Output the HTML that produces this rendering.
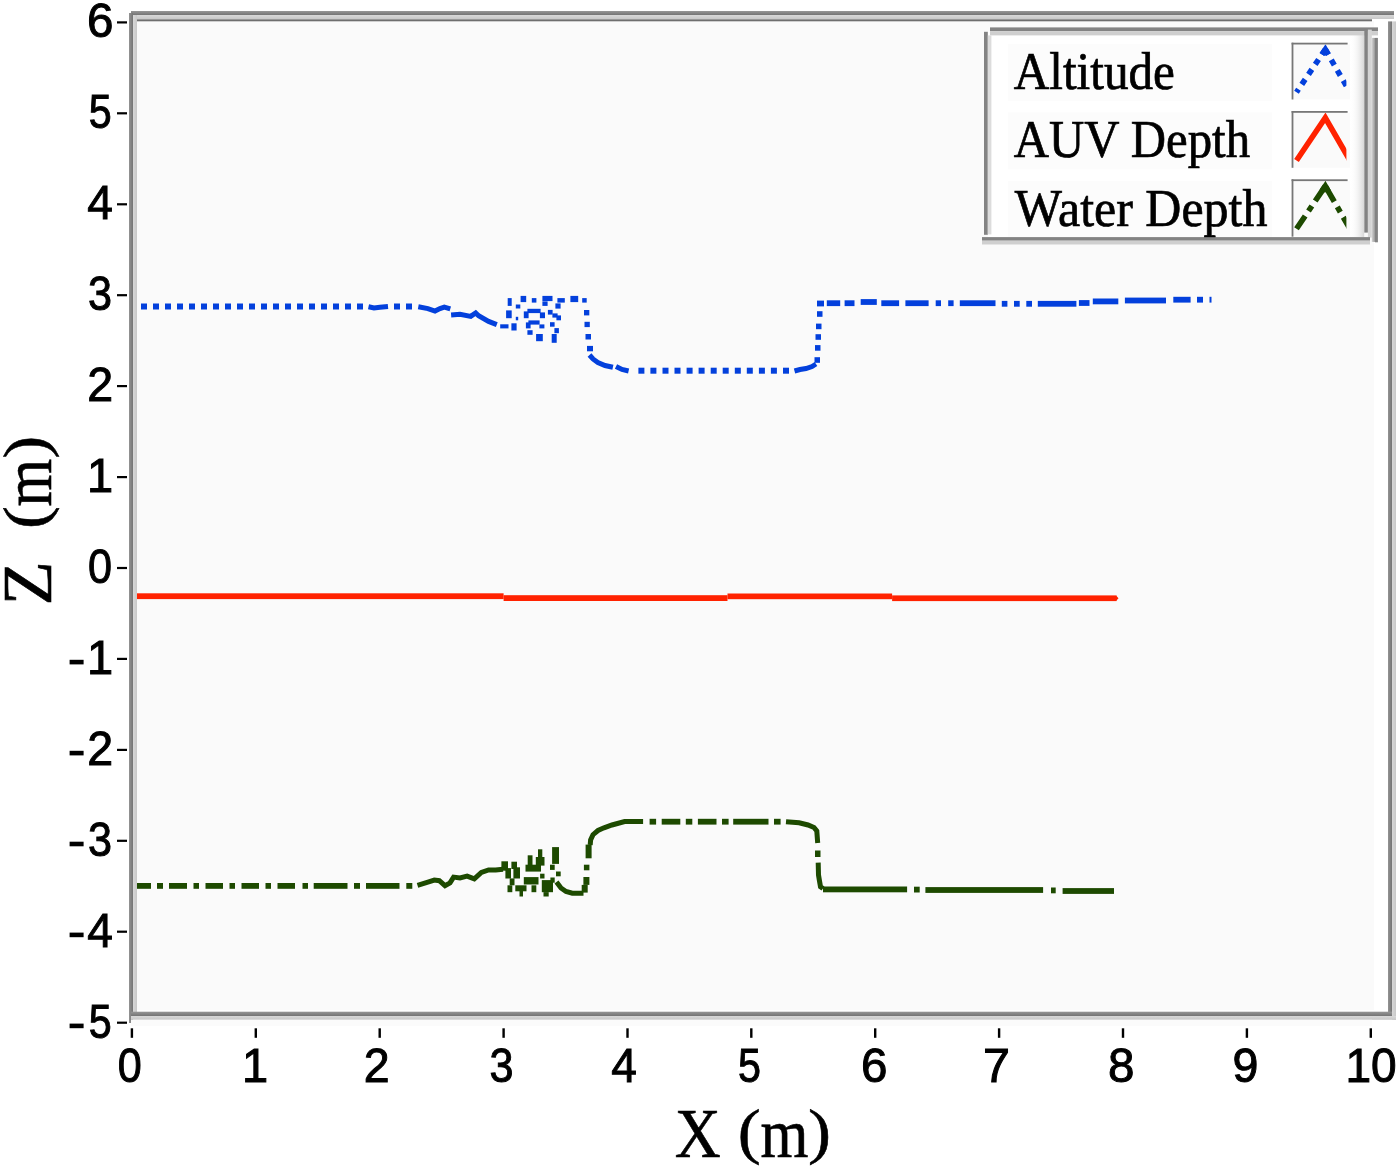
<!DOCTYPE html>
<html><head><meta charset="utf-8"><style>
html,body{margin:0;padding:0;background:#fff;}
svg{display:block;will-change:transform;}
.num{font-family:"Liberation Sans",sans-serif;font-size:48.5px;fill:#000;stroke:#000;stroke-width:1px;}
.ttl{font-family:"Liberation Serif",serif;font-size:69px;fill:#000;stroke:#000;stroke-width:0.6px;}
.leg{font-family:"Liberation Serif",serif;font-size:52px;fill:#000;stroke:#000;stroke-width:0.7px;}
</style></head><body>
<svg width="1400" height="1169" viewBox="0 0 1400 1169">
<defs>
<linearGradient id="shR" x1="0" x2="1" y1="0" y2="0"><stop offset="0" stop-color="#ffffff" stop-opacity="0"/><stop offset="1" stop-color="#d6d6d6"/></linearGradient>
<linearGradient id="shR2" x1="0" x2="1" y1="0" y2="0"><stop offset="0" stop-color="#d4d4d4"/><stop offset="1" stop-color="#999"/></linearGradient>
<linearGradient id="dH" x1="0" x2="1" y1="0" y2="0"><stop offset="0" stop-color="#949494"/><stop offset="1" stop-color="#747474"/></linearGradient>
<linearGradient id="dV" x1="0" x2="0" y1="0" y2="1"><stop offset="0" stop-color="#969696"/><stop offset="1" stop-color="#747474"/></linearGradient>
<linearGradient id="lH" x1="0" x2="1" y1="0" y2="0"><stop offset="0" stop-color="#d8d8d8"/><stop offset="1" stop-color="#c8c8c8"/></linearGradient>
<linearGradient id="lV" x1="0" x2="0" y1="0" y2="1"><stop offset="0" stop-color="#d8d8d8"/><stop offset="1" stop-color="#c8c8c8"/></linearGradient>
<clipPath id="plot"><rect x="137" y="21" width="1251" height="991"/></clipPath>
</defs>
<rect width="1400" height="1169" fill="#fff"/>
<rect x="137" y="21" width="1237" height="989" fill="#fafafa"/>
<rect x="1374" y="21" width="14" height="991" fill="#ffffff"/>
<rect x="131" y="11" width="1263" height="4" fill="url(#dV)"/>
<rect x="133" y="15" width="1261" height="4" fill="url(#lV)"/>
<rect x="137" y="19.3" width="1235" height="2" fill="#6e6e6e"/>
<rect x="129" y="13" width="4" height="1010" fill="url(#dH)"/>
<rect x="133" y="15" width="4" height="997" fill="url(#lH)"/>
<rect x="1388" y="21.4" width="4" height="994.6" fill="url(#dH)"/>
<rect x="1392" y="21.4" width="4" height="998.6" fill="url(#lH)"/>
<rect x="131" y="1011.7" width="1261" height="4.3" fill="url(#dV)"/>
<rect x="131" y="1016" width="1265" height="3.8" fill="url(#lV)"/>
<rect x="131" y="1019.8" width="1241" height="6" fill="#fbfbfb"/>
<rect x="117" y="21.3" width="10" height="2.2" fill="#000"/>
<text class="num" text-anchor="middle" transform="translate(100.1,37.4) scale(0.98,1)">6</text>
<rect x="117" y="112.2" width="10" height="2.2" fill="#000"/>
<text class="num" text-anchor="middle" transform="translate(100.1,128.3) scale(0.85,1)">5</text>
<rect x="117" y="203.2" width="10" height="2.2" fill="#000"/>
<text class="num" text-anchor="middle" transform="translate(100.1,219.3) scale(0.95,1)">4</text>
<rect x="117" y="294.1" width="10" height="2.2" fill="#000"/>
<text class="num" text-anchor="middle" transform="translate(100.1,310.2) scale(0.89,1)">3</text>
<rect x="117" y="385.0" width="10" height="2.2" fill="#000"/>
<text class="num" text-anchor="middle" transform="translate(100.1,401.1) scale(0.96,1)">2</text>
<rect x="117" y="476.0" width="10" height="2.2" fill="#000"/>
<text class="num" text-anchor="middle" transform="translate(100.1,492.1) scale(0.97,1)">1</text>
<rect x="117" y="566.9" width="10" height="2.2" fill="#000"/>
<text class="num" text-anchor="middle" transform="translate(100.1,583.0) scale(0.89,1)">0</text>
<rect x="117" y="657.8" width="10" height="2.2" fill="#000"/>
<text class="num" text-anchor="middle" transform="translate(100.1,673.9) scale(0.97,1)">1</text>
<rect x="69.6" y="659.8" width="14" height="4.6" fill="#000"/>
<rect x="117" y="748.8" width="10" height="2.2" fill="#000"/>
<text class="num" text-anchor="middle" transform="translate(100.1,764.9) scale(0.96,1)">2</text>
<rect x="69.6" y="750.8" width="14" height="4.6" fill="#000"/>
<rect x="117" y="839.7" width="10" height="2.2" fill="#000"/>
<text class="num" text-anchor="middle" transform="translate(100.1,855.8) scale(0.89,1)">3</text>
<rect x="69.6" y="841.7" width="14" height="4.6" fill="#000"/>
<rect x="117" y="930.6" width="10" height="2.2" fill="#000"/>
<text class="num" text-anchor="middle" transform="translate(100.1,946.7) scale(0.95,1)">4</text>
<rect x="69.6" y="932.6" width="14" height="4.6" fill="#000"/>
<rect x="117" y="1021.6" width="10" height="2.2" fill="#000"/>
<text class="num" text-anchor="middle" transform="translate(100.1,1037.7) scale(0.85,1)">5</text>
<rect x="69.6" y="1023.6" width="14" height="4.6" fill="#000"/>
<rect x="130.7" y="1028.3" width="2.4" height="9.5" fill="#000"/>
<text class="num" text-anchor="middle" transform="translate(129.7,1082.3) scale(0.89,1)">0</text>
<rect x="254.6" y="1028.3" width="2.4" height="9.5" fill="#000"/>
<text class="num" text-anchor="middle" transform="translate(255.0,1082.3) scale(0.97,1)">1</text>
<rect x="378.5" y="1028.3" width="2.4" height="9.5" fill="#000"/>
<text class="num" text-anchor="middle" transform="translate(376.8,1082.3) scale(0.96,1)">2</text>
<rect x="502.4" y="1028.3" width="2.4" height="9.5" fill="#000"/>
<text class="num" text-anchor="middle" transform="translate(501.4,1082.3) scale(0.89,1)">3</text>
<rect x="626.3" y="1028.3" width="2.4" height="9.5" fill="#000"/>
<text class="num" text-anchor="middle" transform="translate(624.1,1082.3) scale(0.95,1)">4</text>
<rect x="750.1" y="1028.3" width="2.4" height="9.5" fill="#000"/>
<text class="num" text-anchor="middle" transform="translate(749.5,1082.3) scale(0.85,1)">5</text>
<rect x="874.0" y="1028.3" width="2.4" height="9.5" fill="#000"/>
<text class="num" text-anchor="middle" transform="translate(874.3,1082.3) scale(0.98,1)">6</text>
<rect x="997.9" y="1028.3" width="2.4" height="9.5" fill="#000"/>
<text class="num" text-anchor="middle" transform="translate(996.4,1082.3) scale(1.0,1)">7</text>
<rect x="1121.8" y="1028.3" width="2.4" height="9.5" fill="#000"/>
<text class="num" text-anchor="middle" transform="translate(1121.3,1082.3) scale(0.98,1)">8</text>
<rect x="1245.7" y="1028.3" width="2.4" height="9.5" fill="#000"/>
<text class="num" text-anchor="middle" transform="translate(1245.4,1082.3) scale(0.96,1)">9</text>
<rect x="1369.6" y="1028.3" width="2.4" height="9.5" fill="#000"/>
<text class="num" text-anchor="middle" transform="translate(1371.0,1082.3) scale(0.95,1)">10</text>
<text x="0" y="0" class="ttl" transform="translate(674.8,1157) scale(0.923,1)">X</text>
<text x="0" y="0" class="ttl" transform="translate(737.7,1151.9) scale(1,0.873)">(</text>
<text x="0" y="0" class="ttl" transform="translate(760.5,1157) scale(0.894,1)">m</text>
<text x="0" y="0" class="ttl" transform="translate(807.9,1151.9) scale(1,0.873)">)</text>
<text x="0" y="0" class="ttl" transform="translate(51.3,605.5) rotate(-90) scale(1.051,1)">Z</text>
<text x="0" y="0" class="ttl" transform="translate(46.2,529.1) rotate(-90) scale(1,0.873)">(</text>
<text x="0" y="0" class="ttl" transform="translate(51.3,506.5) rotate(-90) scale(0.888,1)">m</text>
<text x="0" y="0" class="ttl" transform="translate(46.2,458.8) rotate(-90) scale(1,0.873)">)</text>
<g clip-path="url(#plot)"><rect x="137.0" y="593.3" width="366.6" height="5.8" fill="#ff2200"/>
<rect x="503.6" y="595.2" width="223.9" height="5.8" fill="#ff2200"/>
<rect x="727.5" y="593.5" width="164.6" height="5.7" fill="#ff2200"/>
<rect x="892.1" y="595.4" width="224.4" height="5.7" fill="#ff2200"/>
<polygon points="1116,595.4 1118.5,598.2 1116,601.1" fill="#ff2200"/>
<rect x="141.0" y="303.5" width="6.0" height="6.0" fill="#0340dc"/>
<rect x="153.0" y="303.5" width="6.0" height="6.0" fill="#0340dc"/>
<rect x="165.0" y="303.5" width="6.0" height="6.0" fill="#0340dc"/>
<rect x="177.0" y="303.5" width="6.0" height="6.0" fill="#0340dc"/>
<rect x="189.0" y="303.5" width="6.0" height="6.0" fill="#0340dc"/>
<rect x="201.0" y="303.5" width="6.0" height="6.0" fill="#0340dc"/>
<rect x="213.0" y="303.5" width="6.0" height="6.0" fill="#0340dc"/>
<rect x="225.0" y="303.5" width="6.0" height="6.0" fill="#0340dc"/>
<rect x="237.0" y="303.5" width="6.0" height="6.0" fill="#0340dc"/>
<rect x="249.0" y="303.5" width="6.0" height="6.0" fill="#0340dc"/>
<rect x="261.0" y="303.5" width="6.0" height="6.0" fill="#0340dc"/>
<rect x="273.0" y="303.5" width="6.0" height="6.0" fill="#0340dc"/>
<rect x="285.0" y="303.5" width="6.0" height="6.0" fill="#0340dc"/>
<rect x="297.0" y="303.5" width="6.0" height="6.0" fill="#0340dc"/>
<rect x="309.0" y="303.5" width="6.0" height="6.0" fill="#0340dc"/>
<rect x="321.0" y="303.5" width="6.0" height="6.0" fill="#0340dc"/>
<rect x="333.0" y="303.5" width="6.0" height="6.0" fill="#0340dc"/>
<rect x="345.0" y="303.5" width="6.0" height="6.0" fill="#0340dc"/>
<rect x="357.0" y="303.5" width="6.0" height="6.0" fill="#0340dc"/>
<polyline points="368.5,306.8 374.0,308.0 380.0,307.3 388.0,306.5" fill="none" stroke="#0340dc" stroke-width="5.0" stroke-linejoin="miter" stroke-linecap="butt" />
<rect x="394.0" y="303.5" width="6.0" height="6.0" fill="#0340dc"/>
<rect x="406.0" y="303.5" width="6.0" height="6.0" fill="#0340dc"/>
<polyline points="418.3,306.8 427.9,308.6 435.0,311.1 440.0,308.6 444.3,307.1 450.3,308.9" fill="none" stroke="#0340dc" stroke-width="5.0" stroke-linejoin="miter" stroke-linecap="butt" />
<polyline points="451.1,315.0 460.0,314.3 470.7,316.4 475.7,312.9 478.6,315.7 488.6,321.4 496.8,324.6" fill="none" stroke="#0340dc" stroke-width="5.0" stroke-linejoin="miter" stroke-linecap="butt" />
<rect x="500.2" y="324.3" width="8.3" height="4.1" fill="#0340dc"/>
<rect x="507.7" y="298.1" width="4.0" height="7.8" fill="#0340dc"/>
<rect x="515.8" y="304.5" width="4.5" height="4.0" fill="#0340dc"/>
<rect x="520.6" y="295.9" width="5.6" height="6.2" fill="#0340dc"/>
<rect x="531.8" y="298.1" width="4.6" height="4.5" fill="#0340dc"/>
<rect x="542.4" y="295.9" width="10.1" height="5.2" fill="#0340dc"/>
<rect x="542.4" y="301.4" width="5.2" height="4.5" fill="#0340dc"/>
<rect x="557.4" y="298.1" width="7.4" height="4.5" fill="#0340dc"/>
<rect x="555.4" y="303.4" width="5.2" height="5.2" fill="#0340dc"/>
<rect x="570.4" y="295.9" width="7.8" height="6.2" fill="#0340dc"/>
<rect x="582.2" y="298.1" width="4.5" height="4.5" fill="#0340dc"/>
<rect x="506.1" y="310.4" width="5.6" height="7.8" fill="#0340dc"/>
<rect x="511.4" y="323.3" width="5.2" height="7.2" fill="#0340dc"/>
<rect x="515.8" y="316.8" width="2.4" height="3.5" fill="#0340dc"/>
<rect x="523.8" y="311.4" width="4.8" height="6.8" fill="#0340dc"/>
<rect x="527.4" y="308.8" width="13.2" height="4.3" fill="#0340dc"/>
<rect x="539.9" y="312.4" width="5.1" height="5.8" fill="#0340dc"/>
<rect x="525.9" y="322.4" width="4.7" height="6.0" fill="#0340dc"/>
<rect x="528.4" y="320.4" width="11.2" height="4.2" fill="#0340dc"/>
<rect x="539.4" y="324.4" width="5.0" height="4.0" fill="#0340dc"/>
<rect x="527.4" y="330.2" width="5.2" height="4.6" fill="#0340dc"/>
<rect x="536.1" y="334.0" width="6.7" height="7.2" fill="#0340dc"/>
<rect x="547.9" y="309.9" width="4.7" height="4.7" fill="#0340dc"/>
<rect x="552.4" y="313.4" width="5.2" height="4.2" fill="#0340dc"/>
<rect x="556.4" y="315.4" width="4.6" height="4.9" fill="#0340dc"/>
<rect x="550.0" y="322.2" width="4.6" height="4.5" fill="#0340dc"/>
<rect x="554.4" y="328.1" width="4.5" height="5.1" fill="#0340dc"/>
<rect x="551.7" y="334.0" width="5.0" height="8.8" fill="#0340dc"/>
<rect x="584.0" y="310.0" width="5.3" height="5.4" fill="#0340dc"/>
<rect x="584.5" y="321.8" width="5.3" height="5.3" fill="#0340dc"/>
<rect x="585.5" y="334.0" width="5.5" height="5.5" fill="#0340dc"/>
<rect x="587.0" y="345.9" width="6.0" height="5.4" fill="#0340dc"/>
<polyline points="589.5,355.0 593.0,359.0 597.9,362.5 605.0,365.5 612.9,367.3" fill="none" stroke="#0340dc" stroke-width="5.0" stroke-linejoin="miter" stroke-linecap="butt" />
<polyline points="616.0,366.5 622.0,369.5 628.6,371.0" fill="none" stroke="#0340dc" stroke-width="5.0" stroke-linejoin="miter" stroke-linecap="butt" />
<rect x="638.4" y="367.7" width="6.0" height="6.0" fill="#0340dc"/>
<rect x="650.4" y="367.7" width="6.0" height="6.0" fill="#0340dc"/>
<rect x="662.5" y="367.7" width="6.0" height="6.0" fill="#0340dc"/>
<rect x="674.5" y="367.7" width="6.0" height="6.0" fill="#0340dc"/>
<rect x="686.6" y="367.7" width="6.0" height="6.0" fill="#0340dc"/>
<rect x="698.6" y="367.7" width="6.0" height="6.0" fill="#0340dc"/>
<rect x="710.7" y="367.7" width="6.0" height="6.0" fill="#0340dc"/>
<rect x="722.7" y="367.7" width="6.0" height="6.0" fill="#0340dc"/>
<rect x="734.8" y="367.7" width="6.0" height="6.0" fill="#0340dc"/>
<rect x="746.8" y="367.7" width="6.0" height="6.0" fill="#0340dc"/>
<rect x="758.9" y="367.7" width="6.0" height="6.0" fill="#0340dc"/>
<rect x="770.9" y="367.7" width="6.0" height="6.0" fill="#0340dc"/>
<rect x="783.0" y="367.7" width="6.0" height="6.0" fill="#0340dc"/>
<polyline points="794.5,371.0 800.0,369.5 806.0,368.5 812.0,366.5 816.0,364.0" fill="none" stroke="#0340dc" stroke-width="5.0" stroke-linejoin="miter" stroke-linecap="butt" />
<rect x="814.5" y="357.2" width="5.5" height="5.6" fill="#0340dc"/>
<rect x="815.0" y="345.1" width="5.5" height="5.6" fill="#0340dc"/>
<rect x="815.5" y="334.2" width="5.5" height="5.6" fill="#0340dc"/>
<rect x="816.0" y="323.6" width="5.5" height="5.6" fill="#0340dc"/>
<rect x="817.0" y="311.2" width="5.5" height="5.6" fill="#0340dc"/>
<rect x="817.0" y="300.6" width="7.0" height="5.8" fill="#0340dc"/>
<rect x="826.8" y="300.3" width="13.4" height="5.8" fill="#0340dc"/>
<rect x="844.6" y="300.3" width="9.9" height="5.8" fill="#0340dc"/>
<rect x="860.7" y="299.1" width="16.1" height="5.8" fill="#0340dc"/>
<rect x="881.3" y="300.3" width="17.8" height="5.8" fill="#0340dc"/>
<rect x="905.4" y="300.3" width="23.2" height="5.8" fill="#0340dc"/>
<rect x="935.7" y="300.3" width="5.3" height="5.8" fill="#0340dc"/>
<rect x="948.2" y="300.3" width="5.4" height="5.8" fill="#0340dc"/>
<rect x="959.8" y="300.3" width="35.7" height="5.8" fill="#0340dc"/>
<rect x="1001.8" y="300.9" width="5.6" height="5.8" fill="#0340dc"/>
<rect x="1014.0" y="300.9" width="5.7" height="5.8" fill="#0340dc"/>
<rect x="1026.3" y="300.9" width="5.7" height="5.8" fill="#0340dc"/>
<rect x="1037.8" y="300.9" width="38.6" height="5.8" fill="#0340dc"/>
<rect x="1078.9" y="300.1" width="10.6" height="5.8" fill="#0340dc"/>
<rect x="1092.8" y="298.5" width="25.5" height="5.8" fill="#0340dc"/>
<rect x="1124.9" y="297.6" width="41.1" height="5.8" fill="#0340dc"/>
<rect x="1173.3" y="296.8" width="17.3" height="5.8" fill="#0340dc"/>
<rect x="1197.0" y="296.8" width="6.0" height="5.8" fill="#0340dc"/>
<rect x="1209.5" y="296.8" width="2.0" height="5.8" fill="#0340dc"/>
<rect x="137.0" y="883.0" width="14.0" height="5.8" fill="#1d4a00"/>
<rect x="157.0" y="883.0" width="6.0" height="5.8" fill="#1d4a00"/>
<rect x="169.0" y="883.0" width="18.0" height="5.8" fill="#1d4a00"/>
<rect x="193.5" y="883.0" width="5.5" height="5.8" fill="#1d4a00"/>
<rect x="205.5" y="883.0" width="17.5" height="5.8" fill="#1d4a00"/>
<rect x="229.5" y="883.0" width="5.5" height="5.8" fill="#1d4a00"/>
<rect x="241.5" y="883.0" width="17.5" height="5.8" fill="#1d4a00"/>
<rect x="265.5" y="883.0" width="5.5" height="5.8" fill="#1d4a00"/>
<rect x="277.5" y="883.0" width="17.5" height="5.8" fill="#1d4a00"/>
<rect x="302.5" y="883.0" width="5.5" height="5.8" fill="#1d4a00"/>
<rect x="313.7" y="883.0" width="33.8" height="5.8" fill="#1d4a00"/>
<rect x="354.0" y="883.0" width="6.0" height="5.8" fill="#1d4a00"/>
<rect x="366.0" y="883.0" width="33.5" height="5.8" fill="#1d4a00"/>
<rect x="406.3" y="883.0" width="6.0" height="5.8" fill="#1d4a00"/>
<polyline points="417.5,885.3 427.9,882.1 434.3,880.0 439.3,880.7 445.0,885.7 450.0,882.9 453.6,877.1 460.0,877.9 467.1,876.1 474.3,878.9 481.4,872.5 488.6,870.0 495.7,870.0 503.0,869.3" fill="none" stroke="#1d4a00" stroke-width="5.0" stroke-linejoin="miter" stroke-linecap="butt" />
<rect x="501.4" y="861.3" width="6.6" height="9.4" fill="#1d4a00"/>
<rect x="505.4" y="868.1" width="5.6" height="10.4" fill="#1d4a00"/>
<rect x="511.4" y="861.7" width="5.6" height="7.3" fill="#1d4a00"/>
<rect x="513.4" y="867.3" width="6.6" height="11.2" fill="#1d4a00"/>
<rect x="507.5" y="885.3" width="4.8" height="6.9" fill="#1d4a00"/>
<rect x="509.7" y="878.4" width="4.8" height="6.9" fill="#1d4a00"/>
<rect x="515.3" y="885.3" width="11.2" height="6.0" fill="#1d4a00"/>
<rect x="519.5" y="890.4" width="3.5" height="6.1" fill="#1d4a00"/>
<rect x="523.8" y="877.1" width="14.7" height="7.4" fill="#1d4a00"/>
<rect x="531.5" y="885.3" width="4.8" height="6.9" fill="#1d4a00"/>
<rect x="525.5" y="864.7" width="15.5" height="6.9" fill="#1d4a00"/>
<rect x="527.7" y="855.3" width="4.8" height="10.3" fill="#1d4a00"/>
<rect x="538.0" y="849.3" width="4.3" height="14.6" fill="#1d4a00"/>
<rect x="535.8" y="857.0" width="8.7" height="8.6" fill="#1d4a00"/>
<rect x="540.1" y="873.7" width="4.4" height="4.8" fill="#1d4a00"/>
<rect x="541.8" y="880.1" width="11.2" height="12.1" fill="#1d4a00"/>
<rect x="543.5" y="892.1" width="5.2" height="4.4" fill="#1d4a00"/>
<rect x="550.0" y="864.7" width="4.7" height="5.2" fill="#1d4a00"/>
<rect x="552.1" y="847.1" width="6.9" height="16.8" fill="#1d4a00"/>
<rect x="556.0" y="871.5" width="4.7" height="4.8" fill="#1d4a00"/>
<rect x="550.4" y="877.5" width="4.3" height="5.2" fill="#1d4a00"/>
<polyline points="556.5,882.0 561.0,888.0 566.0,891.5 572.3,893.2 583.5,893.2" fill="none" stroke="#1d4a00" stroke-width="5.0" stroke-linejoin="miter" stroke-linecap="butt" />
<rect x="581.7" y="884.9" width="6.0" height="7.7" fill="#1d4a00"/>
<rect x="583.4" y="877.0" width="6.0" height="7.9" fill="#1d4a00"/>
<rect x="583.9" y="864.7" width="5.5" height="5.6" fill="#1d4a00"/>
<rect x="585.6" y="844.6" width="6.0" height="13.7" fill="#1d4a00"/>
<polyline points="590.2,845.0 590.6,840.0 593.0,834.7 598.0,830.5 604.0,827.8 612.0,825.0 624.6,821.5 643.1,821.5" fill="none" stroke="#1d4a00" stroke-width="5.0" stroke-linejoin="miter" stroke-linecap="butt" />
<rect x="649.6" y="818.8" width="6.5" height="5.8" fill="#1d4a00"/>
<rect x="661.7" y="818.8" width="18.6" height="5.8" fill="#1d4a00"/>
<rect x="685.8" y="818.8" width="6.5" height="5.8" fill="#1d4a00"/>
<rect x="697.9" y="818.8" width="18.6" height="5.8" fill="#1d4a00"/>
<rect x="722.0" y="818.8" width="6.6" height="5.8" fill="#1d4a00"/>
<rect x="733.2" y="818.8" width="35.3" height="5.8" fill="#1d4a00"/>
<rect x="774.0" y="818.8" width="6.6" height="5.8" fill="#1d4a00"/>
<polyline points="786.0,821.7 799.1,822.8 808.0,825.0 814.0,827.5 816.8,831.0 817.7,843.0" fill="none" stroke="#1d4a00" stroke-width="5.0" stroke-linejoin="miter" stroke-linecap="butt" />
<rect x="815.0" y="850.5" width="5.5" height="6.5" fill="#1d4a00"/>
<polyline points="818.2,862.6 818.5,875.0 819.5,881.0 820.5,886.7 823.0,888.5" fill="none" stroke="#1d4a00" stroke-width="5.0" stroke-linejoin="miter" stroke-linecap="butt" />
<rect x="823.0" y="886.5" width="84.1" height="5.8" fill="#1d4a00"/>
<rect x="914.0" y="886.7" width="5.7" height="5.8" fill="#1d4a00"/>
<rect x="925.4" y="887.1" width="117.7" height="5.8" fill="#1d4a00"/>
<rect x="1051.0" y="887.5" width="4.7" height="5.8" fill="#1d4a00"/>
<rect x="1062.6" y="888.1" width="51.4" height="5.8" fill="#1d4a00"/></g>
<rect x="988" y="31" width="377" height="206" fill="#ffffff"/>
<rect x="1008" y="44.0" width="264" height="57" fill="#fcfcfc"/>
<rect x="1008" y="112.4" width="264" height="57" fill="#fcfcfc"/>
<rect x="1008" y="180.8" width="264" height="57" fill="#fcfcfc"/>
<rect x="1350" y="35" width="14.3" height="202" fill="url(#shR)"/>
<rect x="990" y="27.4" width="388" height="3.9" fill="#838383"/>
<rect x="990" y="31.3" width="388" height="4.1" fill="#cfcfcf"/>
<rect x="984" y="31.8" width="3.8" height="203" fill="#838383"/>
<rect x="987.8" y="35.4" width="3.6" height="199" fill="#dcdcdc"/>
<rect x="1364.3" y="29.6" width="3.6" height="203" fill="#838383"/>
<rect x="1367.9" y="29.6" width="3.9" height="208" fill="#d4d4d4"/>
<rect x="1371.8" y="37.9" width="3.2" height="204" fill="url(#shR2)"/>
<rect x="1375" y="37.9" width="2.9" height="204.4" fill="#838383"/>
<rect x="982" y="237.1" width="388" height="3.6" fill="#838383"/>
<rect x="982" y="240.7" width="388" height="3.8" fill="#cfcfcf"/>
<text x="0" y="0" class="leg" transform="translate(1013.7,88.7) scale(0.946,1)">Altitude</text>
<text x="0" y="0" class="leg" transform="translate(1013.7,157.1) scale(0.939,1)">AUV Depth</text>
<text x="0" y="0" class="leg" transform="translate(1014.8,225.5) scale(0.961,1)">Water Depth</text>
<rect x="1293" y="44.4" width="57" height="55.0" fill="#fafafa"/>
<rect x="1291.6" y="42.7" width="56" height="1.8" fill="#777"/>
<rect x="1291.6" y="42.7" width="1.8" height="56.8" fill="#777"/>
<rect x="1293" y="112.7" width="57" height="55.0" fill="#fafafa"/>
<rect x="1291.6" y="111.0" width="56" height="1.8" fill="#777"/>
<rect x="1291.6" y="111.0" width="1.8" height="56.8" fill="#777"/>
<rect x="1293" y="181.0" width="57" height="54.5" fill="#fafafa"/>
<rect x="1291.6" y="179.3" width="56" height="1.8" fill="#777"/>
<rect x="1291.6" y="179.3" width="1.8" height="57.4" fill="#777"/>
<clipPath id="sw0"><rect x="1293.4" y="44.5" width="53" height="58"/></clipPath>
<g clip-path="url(#sw0)">
<polyline points="1325.3,49.5 1296.5,92.2" stroke="#0340dc" stroke-width="5.6" fill="none" stroke-linejoin="miter" stroke-miterlimit="10" stroke-dasharray="6 6"/>
<polyline points="1325.3,49.5 1352,95.7" stroke="#0340dc" stroke-width="5.6" fill="none" stroke-linejoin="miter" stroke-miterlimit="10" stroke-dasharray="6 6"/>
<polyline points="1321.94,54.47 1325.3,49.5 1328.30,54.69" stroke="#0340dc" stroke-width="5.6" fill="none" stroke-linejoin="miter" stroke-miterlimit="10"/>
</g>
<clipPath id="sw1"><rect x="1293.4" y="112.8" width="53" height="58"/></clipPath>
<polyline clip-path="url(#sw1)" points="1296.5,160.5 1325.3,117.8 1352,164.0" stroke="#ff2200" stroke-width="5.6" fill="none" stroke-linejoin="miter" stroke-miterlimit="10"/>
<clipPath id="sw2"><rect x="1293.4" y="181.1" width="53" height="58"/></clipPath>
<g clip-path="url(#sw2)">
<polyline points="1325.3,186.1 1296.5,228.8" stroke="#1d4a00" stroke-width="5.6" fill="none" stroke-linejoin="miter" stroke-miterlimit="10" stroke-dasharray="18 6 6 6"/>
<polyline points="1325.3,186.1 1352,232.3" stroke="#1d4a00" stroke-width="5.6" fill="none" stroke-linejoin="miter" stroke-miterlimit="10" stroke-dasharray="18 6 6 6"/>
<polyline points="1321.94,191.07 1325.3,186.1 1328.30,191.29" stroke="#1d4a00" stroke-width="5.6" fill="none" stroke-linejoin="miter" stroke-miterlimit="10"/>
</g>
</svg>
</body></html>
